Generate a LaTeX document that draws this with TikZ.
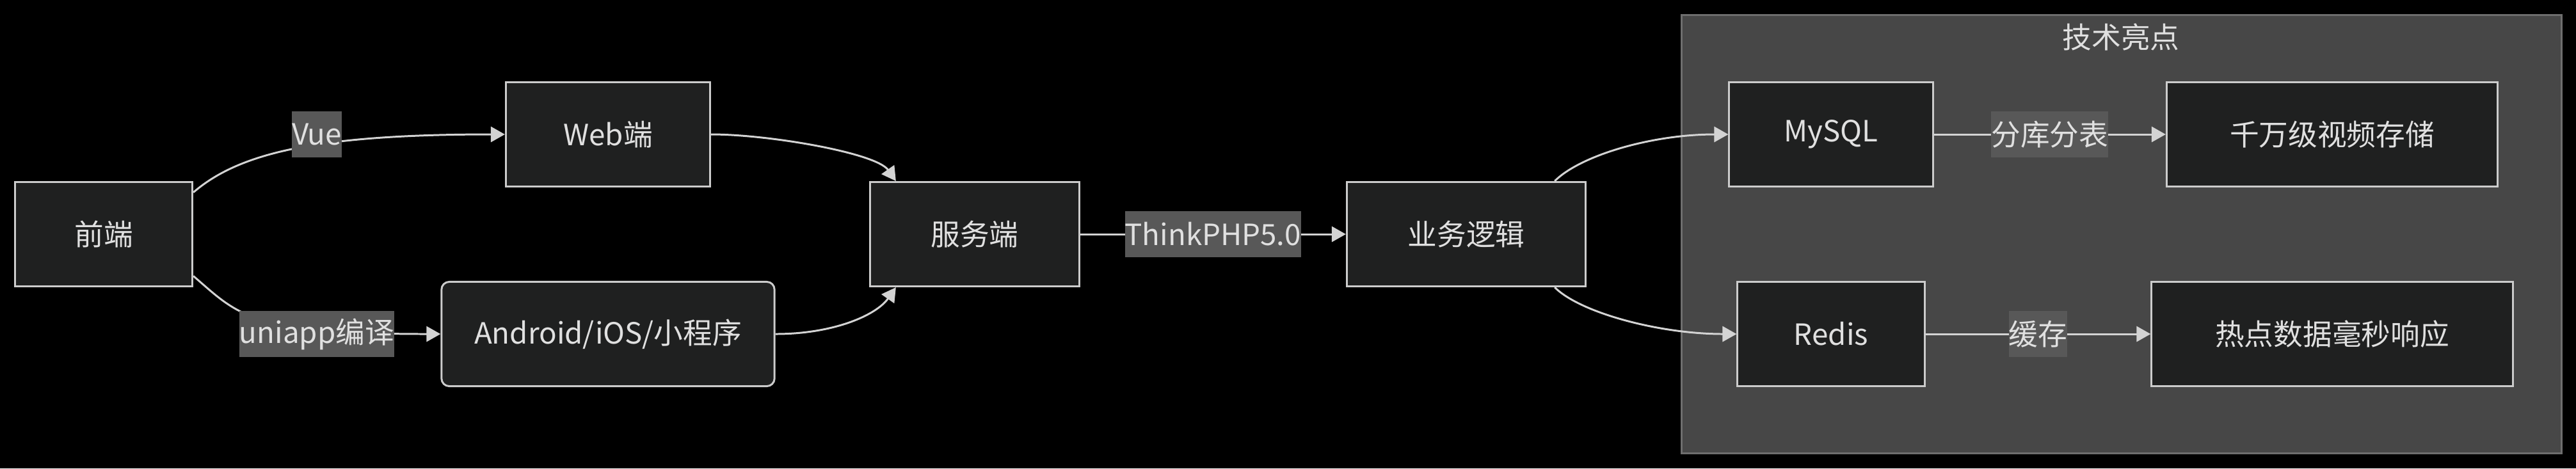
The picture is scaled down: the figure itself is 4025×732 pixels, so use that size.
\documentclass[tikz,border=0pt]{standalone}
\usepackage{fontspec}
\setmainfont{Noto Sans CJK SC}
\usepackage{tikz}
\usetikzlibrary{arrows.meta}
\definecolor{nodefill}{HTML}{1F2020}
\definecolor{nodeline}{HTML}{CCCCCC}
\definecolor{edgeline}{HTML}{D3D3D3}
\definecolor{labelfill}{HTML}{585858}
\definecolor{clusterfill}{HTML}{474747}
\definecolor{clusterline}{HTML}{6E6E6E}
\definecolor{textcol}{HTML}{E0E0E0}

\begin{document}
\begin{tikzpicture}[x=0.01cm,y=-0.01cm,
            every node/.style={font=\fontsize{13pt}{16pt}\selectfont,text=textcol},
            box/.style={draw=nodeline,fill=nodefill,line width=0.85pt,minimum height=1.63cm,inner sep=0pt},
            tag/.style={fill=labelfill,inner xsep=0pt,inner ysep=0pt,minimum height=0.72cm},
            link/.style={draw=edgeline,line width=0.85pt,-{Triangle[length=0.22cm,width=0.24cm]}}]
            % background and cluster
            \fill[black] (0,0) rectangle (4025,732);
            \draw[clusterline,fill=clusterfill,line width=0.85pt] (2627,23) rectangle (4002,708);
            \node (title) at (3314,58) {技术亮点};
            % nodes
            \node[box,minimum width=2.77cm] (qianduan) at (162,366) {前端};
            \node[box,minimum width=3.19cm] (web) at (950,210) {Web端};
            \node[box,minimum width=5.20cm,rounded corners=0.12cm] (app) at (950,522) {Android/iOS/小程序};
            \node[box,minimum width=3.26cm] (fuwu) at (1523,366) {服务端};
            \node[box,minimum width=3.73cm] (logic) at (2291,366) {业务逻辑};
            \node[box,minimum width=3.18cm] (mysql) at (2861,210) {MySQL};
            \node[box,minimum width=5.17cm] (storage) at (3644,210) {千万级视频存储};
            \node[box,minimum width=2.92cm] (redis) at (2861,522) {Redis};
            \node[box,minimum width=5.64cm] (hot) at (3644,522) {热点数据毫秒响应};
            % edges
            \draw[link] (qianduan.25) .. controls +(70,-60) and +(-300,0) .. (web.west);
            \draw[link] (qianduan.-25) .. controls +(70,60) and +(-300,0) .. (app.west);
            \node[tag] (vue) at (495,210) {Vue};
            \node[tag] (uniapp) at (495,522) {uniapp编译};
            \draw[link] (web.east) .. controls +(90,0) and +(-31,-44) .. (fuwu.146);
            \draw[link] (app.east) .. controls +(90,0) and +(-31,44) .. (fuwu.-146);
            \draw[link] (fuwu.east) -- node[tag] (tp) {ThinkPHP5.0} (logic.west);
            \draw[link] (logic.31) .. controls +(40,-40) and +(-120,0) .. (mysql.west);
            \draw[link] (logic.-31) .. controls +(40,40) and +(-120,0) .. (redis.west);
            \draw[link] (mysql.east) -- node[tag] (shard) {分库分表} (storage.west);
            \draw[link] (redis.east) -- node[tag] (cache) {缓存} (hot.west);
        \end{tikzpicture}
\end{document}
